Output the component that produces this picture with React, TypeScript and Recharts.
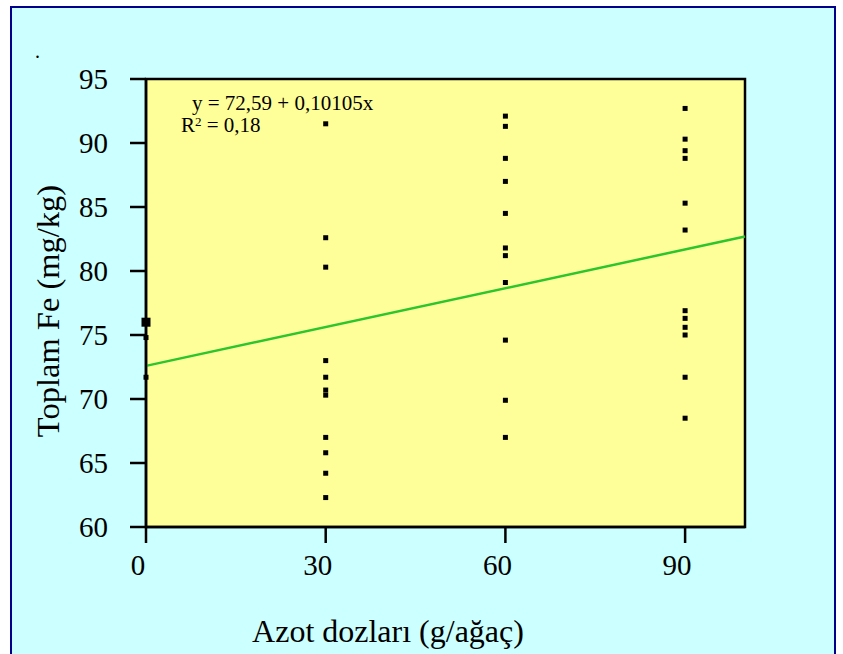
import React from "react";
import {
  ReferenceArea,
  ReferenceLine,
  Scatter,
  ScatterChart,
  XAxis,
  YAxis,
  ZAxis,
} from "recharts";

const dose0 = [76.0, 74.8, 71.7];
const dose0Count = [3, 1, 1]; // first point is several overlapping observations
const dose30 = [91.5, 82.6, 80.3, 73.0, 71.7, 70.7, 70.3, 67.0, 65.8, 64.2, 62.3];
const dose60 = [92.1, 91.3, 88.8, 87.0, 84.5, 81.8, 81.2, 79.1, 74.6, 69.9, 67.0];
const dose90 = [92.7, 90.3, 89.4, 88.8, 85.3, 83.2, 76.9, 76.3, 75.6, 75.0, 71.7, 68.5];

const xTicks = [0, 30, 60, 90];
const yTicks = [60, 65, 70, 75, 80, 85, 90, 95];

const intercept = 72.59;
const slope = 0.10105;

const toRows = (dose: number, values: number[], counts?: number[]) =>
  values.map((v, i) => ({ x: dose, y: v, n: counts ? counts[i] : 1 }));

const points = [
  ...toRows(0, dose0, dose0Count),
  ...toRows(30, dose30),
  ...toRows(60, dose60),
  ...toRows(90, dose90),
];

const serif = "'Liberation Serif', 'Times New Roman', serif";

function XTick({ x, y, payload }: any) {
  return (
    <text x={x - 8} y={y} dy="0.71em" textAnchor="middle" fontSize={29} fontFamily={serif} fill="#000">
      {payload.value}
    </text>
  );
}

export default function App() {
  return (
    <div style={{ position: "absolute", left: 0, top: 0, width: 843, height: 654, overflow: "hidden", background: "#fff" }}>
      <div
        style={{
          position: "absolute",
          left: 10,
          top: 6,
          width: 826,
          height: 700,
          boxSizing: "border-box",
          border: "2.5px solid #00008B",
          background: "#CCFFFF",
        }}
      />
      <div style={{ position: "absolute", left: 0, top: 0 }}>
        <ScatterChart width={843} height={654} margin={{ top: 79, right: 98, bottom: 67, left: 0 }}>
          <XAxis
            type="number"
            dataKey="x"
            domain={[0, 100]}
            ticks={xTicks}
            height={60}
            tickSize={16}
            tickMargin={11}
            tick={<XTick />}
            axisLine={{ stroke: "#000", strokeWidth: 2.5 }}
            tickLine={{ stroke: "#000", strokeWidth: 2.5 }}
          />
          <YAxis
            type="number"
            dataKey="y"
            domain={[60, 95]}
            ticks={yTicks}
            width={146}
            tickSize={16}
            tickMargin={22}
            tick={{ fill: "#000", fontSize: 29, fontFamily: serif }}
            axisLine={{ stroke: "#000", strokeWidth: 2.5 }}
            tickLine={{ stroke: "#000", strokeWidth: 2.5 }}
          />
          <ZAxis type="number" dataKey="n" domain={[1, 3]} range={[25, 81]} />
          <ReferenceArea x1={0} x2={100} y1={60} y2={95} fill="#FFFF99" fillOpacity={1} stroke="#000" strokeWidth={2.5} />
          <ReferenceLine
            segment={[
              { x: 0, y: intercept },
              { x: 100, y: intercept + slope * 100 },
            ]}
            stroke="#2DC52D"
            strokeWidth={2.5}
          />
          <Scatter data={points} shape="square" fill="#000" isAnimationActive={false} />
        </ScatterChart>
      </div>
      <div style={{ position: "absolute", left: 35, top: 40, fontFamily: serif, fontSize: 20, color: "#000" }}>.</div>
      <div style={{ position: "absolute", left: 192, top: 94, fontFamily: serif, fontSize: 21, color: "#000", whiteSpace: "nowrap", lineHeight: "19px" }}>
        y = 72,59 + 0,10105x
      </div>
      <div style={{ position: "absolute", left: 181, top: 116, fontFamily: serif, fontSize: 21, color: "#000", whiteSpace: "nowrap", lineHeight: "19px" }}>
        R<sup style={{ fontSize: 13, verticalAlign: "6px", lineHeight: 0 }}>2</sup> = 0,18
      </div>
      <div
        style={{
          position: "absolute",
          left: 48,
          top: 311,
          transform: "translate(-50%, -50%) rotate(-90deg)",
          fontFamily: serif,
          fontSize: 32.5,
          color: "#000",
          whiteSpace: "nowrap",
        }}
      >
        Toplam Fe (mg/kg)
      </div>
      <div
        style={{
          position: "absolute",
          left: 388,
          top: 631,
          transform: "translate(-50%, -50%)",
          fontFamily: serif,
          fontSize: 32,
          color: "#000",
          whiteSpace: "nowrap",
        }}
      >
        Azot dozları (g/ağaç)
      </div>
    </div>
  );
}
